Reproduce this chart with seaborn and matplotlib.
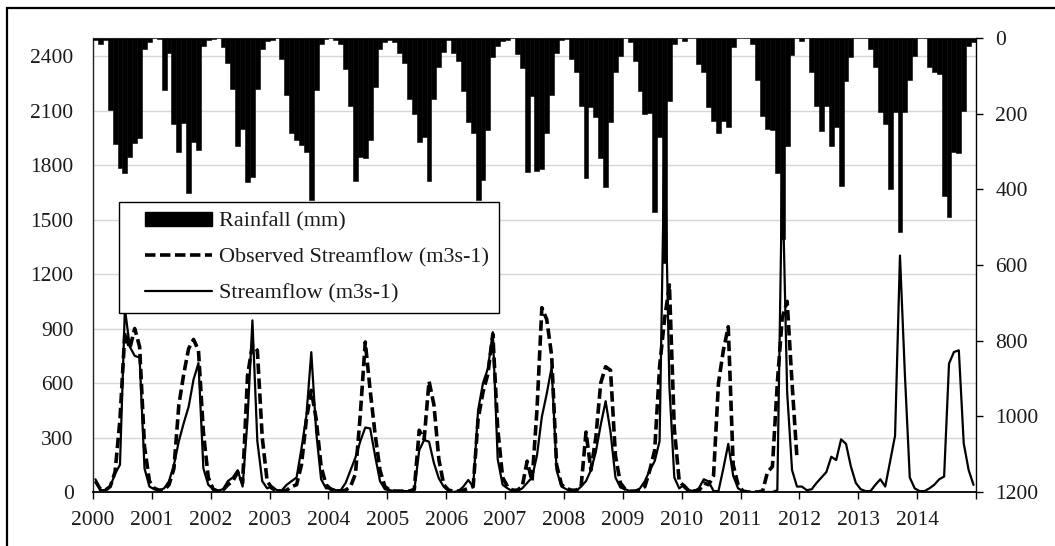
import numpy as np
import pandas as pd
import matplotlib
matplotlib.use("Agg")
import matplotlib.pyplot as plt
import seaborn as sns
from matplotlib.patches import Rectangle, Patch
from matplotlib.lines import Line2D
from matplotlib.legend_handler import HandlerLine2D, HandlerPatch

# ---- monthly data, Jan 2000 - Dec 2014 ----
years = list(range(2000, 2015))
year_labels = [str(y) for y in years]

rainfall_mm = [
    5, 15, 5, 190, 280, 344, 357, 314, 278, 265, 30, 10,        # 2000
    0, 2, 137, 40, 226, 302, 225, 411, 274, 295, 20, 5,         # 2001
    3, 0, 25, 65, 136, 285, 240, 381, 368, 135, 30, 8,          # 2002
    5, 0, 55, 150, 250, 270, 284, 302, 428, 137, 15, 3,         # 2003
    0, 5, 16, 82, 179, 377, 315, 317, 270, 130, 29, 10,         # 2004
    5, 10, 40, 65, 160, 200, 276, 261, 377, 160, 77, 38,        # 2005
    5, 40, 60, 140, 222, 250, 428, 376, 242, 50, 20, 8,         # 2006
    5, 0, 42, 78, 355, 153, 351, 346, 250, 150, 40, 5,          # 2007
    2, 56, 91, 179, 369, 183, 210, 316, 395, 223, 91, 47,       # 2008
    0, 10, 60, 139, 201, 197, 460, 262, 595, 166, 16, 0,        # 2009
    9, 0, 0, 69, 91, 182, 219, 250, 220, 236, 25, 0,            # 2010
    0, 0, 15, 112, 205, 241, 243, 356, 530, 286, 45, 0,         # 2011
    8, 0, 91, 179, 245, 179, 285, 236, 391, 114, 50, 0,         # 2012
    0, 0, 29, 77, 196, 227, 399, 196, 514, 196, 110, 47,        # 2013
    0, 0, 77, 91, 95, 417, 473, 301, 305, 192, 20, 10,          # 2014
]

observed_flow = [
    60, 15, 10, 30, 110, 400, 880, 790, 900, 800, 250, 60,      # 2000
    20, 10, 10, 40, 130, 480, 650, 790, 840, 780, 330, 80,      # 2001
    15, 5, 10, 40, 60, 110, 50, 640, 810, 780, 300, 60,         # 2002
    20, 5, 5, 10, 30, 40, 150, 400, 560, 400, 140, 40,          # 2003
    15, 5, 5, 10, 30, 100, 430, 826, 560, 320, 120, 30,         # 2004
    10, 5, 5, 5, 5, 15, 340, 290, 610, 480, 180, 40,            # 2005
    10, 5, 5, 10, 20, 30, 400, 550, 650, 870, 350, 80,          # 2006
    30, 10, 10, 30, 170, 60, 450, 1015, 950, 750, 150, 40,      # 2007
    20, 10, 10, 30, 330, 120, 300, 600, 690, 670, 200, 50,      # 2008
    15, 5, 5, 10, 30, 120, 230, 690, 950, 1140, 350, 60,        # 2009
    30, 5, 5, 5, 50, 40, 90, 600, 780, 910, 150, 40,            # 2010
    5, 0, 0, 0, 5, 110, 140, 600, 960, 1050, 600, 190,          # 2011
]

simulated_flow = [
    70, 10, 10, 30, 100, 150, 1010, 800, 750, 740, 130, 30,     # 2000
    15, 10, 20, 60, 150, 280, 380, 470, 620, 710, 130, 40,      # 2001
    15, 8, 15, 60, 80, 120, 30, 400, 945, 280, 60, 20,          # 2002
    30, 10, 10, 40, 60, 80, 240, 420, 770, 330, 70, 20,         # 2003
    20, 10, 10, 50, 120, 190, 280, 355, 350, 200, 60, 15,       # 2004
    10, 5, 5, 5, 5, 10, 230, 286, 277, 159, 75, 29,             # 2005
    5, 0, 5, 30, 66, 29, 450, 600, 680, 880, 180, 40,           # 2006
    20, 5, 5, 20, 50, 80, 200, 414, 542, 688, 120, 30,          # 2007
    15, 5, 5, 30, 60, 120, 220, 370, 500, 330, 80, 25,          # 2008
    15, 5, 5, 20, 60, 120, 170, 280, 1950, 580, 80, 20,         # 2009
    40, 10, 5, 20, 70, 58, 5, 5, 130, 265, 90, 20,              # 2010
    5, 0, 0, 0, 0, 0, 0, 10, 1780, 550, 121, 30,                # 2011
    30, 10, 15, 50, 80, 110, 194, 176, 290, 265, 140, 50,       # 2012
    15, 5, 5, 40, 70, 30, 170, 310, 1302, 650, 80, 20,          # 2013
    5, 5, 20, 40, 70, 85, 707, 771, 780, 267, 121, 39,          # 2014
]

flow_ticks = list(range(0, 2401, 300))
rain_ticks = list(range(0, 1201, 200))

# month midpoints in decimal years
n_months = len(rainfall_mm)
t_all = 2000 + (np.arange(n_months) + 0.5) / 12.0
rain_df = pd.DataFrame({"t": t_all, "rain": rainfall_mm})
sim_df = pd.DataFrame({"t": t_all, "flow": simulated_flow})
obs_df = pd.DataFrame({"t": t_all[:len(observed_flow)], "flow": observed_flow})

# ---- styling ----
sns.set_theme(style="white")
plt.rcParams["font.family"] = ["Liberation Serif", "DejaVu Serif"]
FS = 15.5
LEG_FS = 16
TXT = "#1a1a1a"

fig = plt.figure(figsize=(10.55, 5.46), dpi=100)
ax = fig.add_axes([93 / 1055, 1 - 492 / 546, 883 / 1055, 454 / 546])
ax2 = ax.twinx()

# streamflow lines on the left axis
sns.lineplot(data=sim_df, x="t", y="flow", ax=ax, color="black",
             linewidth=1.6, zorder=3)
sns.lineplot(data=obs_df, x="t", y="flow", ax=ax, color="black",
             linewidth=2.6, zorder=3)
ax.lines[-1].set_dashes((2.9, 1.25))

# rainfall bars hanging from the top on the inverted right axis
sns.barplot(data=rain_df, x="t", y="rain", ax=ax2, native_scale=True,
            color="black", saturation=1, width=1.0, errorbar=None,
            edgecolor="black", linewidth=0.4)

ax.set_xlim(2000, 2015)
ax.set_ylim(0, 2500)
ax.set_yticks(flow_ticks)
ax.set_yticklabels([str(v) for v in flow_ticks])
ax.yaxis.grid(True, color="#d6d6d6", linewidth=1.0)
ax.xaxis.grid(False)
ax.set_axisbelow(True)

ax.set_xticks(list(range(2000, 2016)))
ax.set_xticklabels(year_labels + [""])
ax.set_xlabel("")
ax.set_ylabel("")

ax2.set_xlim(2000, 2015)
ax2.set_ylim(1200, 0)
ax2.set_yticks(rain_ticks)
ax2.set_yticklabels([str(v) for v in rain_ticks])
ax2.set_xlabel("")
ax2.set_ylabel("")
ax2.grid(False)

for a in (ax, ax2):
    for s in a.spines.values():
        s.set_visible(False)

ax.spines["left"].set_visible(True)
ax.spines["left"].set_color("#222222")
ax.spines["left"].set_linewidth(1.0)
ax.spines["bottom"].set_visible(True)
ax.spines["bottom"].set_color("black")
ax.spines["bottom"].set_linewidth(1.3)
ax.spines["top"].set_visible(True)
ax.spines["top"].set_color("#a0a0a0")
ax.spines["top"].set_linewidth(0.8)
ax2.spines["right"].set_visible(True)
ax2.spines["right"].set_color("black")
ax2.spines["right"].set_linewidth(1.0)

ax.tick_params(axis="y", which="both", length=0, pad=14, labelsize=FS,
               labelcolor=TXT, left=True, right=False)
ax.tick_params(axis="x", which="both", direction="out", length=5,
               width=1.0, color="black", pad=9, labelsize=FS,
               labelcolor=TXT, bottom=True, top=False)
ax2.tick_params(axis="y", which="both", direction="out", length=5,
                width=1.0, color="black", pad=9, labelsize=FS,
                labelcolor=TXT, right=True, left=False)

# legend
h_rain = Patch(facecolor="black", edgecolor="black")
h_obs = Line2D([], [], color="black", linewidth=2.6, dashes=(2.9, 1.25))
h_sim = Line2D([], [], color="black", linewidth=1.6)
leg = ax2.legend(
    [h_rain, h_obs, h_sim],
    ["Rainfall (mm)", "Observed Streamflow (m3s-1)", "Streamflow (m3s-1)"],
    loc="upper left", bbox_to_anchor=(0.0294, 0.639), borderaxespad=0,
    fontsize=LEG_FS, frameon=True, fancybox=False, framealpha=1,
    edgecolor="black", borderpad=0.45, handlelength=3.75, handleheight=0.58,
    handletextpad=0.32, labelspacing=0.72,
    handler_map={
        Patch: HandlerPatch(xpad=0.72),
        Line2D: HandlerLine2D(xpad=0.72),
    },
)
leg.get_frame().set_linewidth(1.0)
leg.set_zorder(10)
for txt in leg.get_texts():
    txt.set_color(TXT)

# frame around the figure (top and left edges)
fig.patches.append(Rectangle((7 / 1055, -0.1), 1.2, 1 - 8 / 546 + 0.1,
                             transform=fig.transFigure, fill=False,
                             edgecolor="black", linewidth=1.6))

fig.savefig("out.png", dpi=100)
